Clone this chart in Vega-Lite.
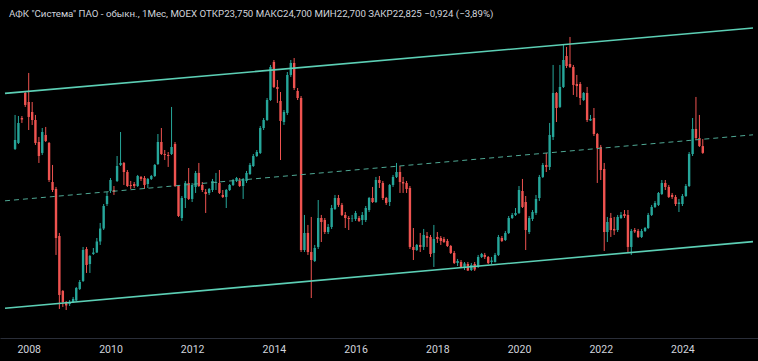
{
  "$schema": "https://vega.github.io/schema/vega-lite/v6.json",
  "width": 758,
  "height": 338,
  "autosize": {"type": "none"},
  "padding": {"left": 0, "right": 0, "top": 0, "bottom": 23},
  "background": "#000000",
  "config": {"view": {"stroke": null, "fill": "#000000"}, "font": "Roboto"},
  "title": {
    "text": "АФК \"Система\" ПАО - обыкн., 1Мес, MOEX  ОТКР23,750  МАКС24,700  МИН22,700  ЗАКР22,825  −0,924 (−3,89%)",
    "anchor": "start", "frame": "group", "offset": -19, "dx": 9,
    "fontSize": 9.7, "fontWeight": "normal", "color": "#d1d4dc", "font": "Roboto"
  },
  "datasets": {
    "candles": [
      {"date":"2007-09-01","open":23.36,"high":27.95,"low":23.22,"close":24.57},
      {"date":"2007-10-01","open":24.17,"high":27.81,"low":24.03,"close":26.87},
      {"date":"2007-11-01","open":27.54,"high":27.81,"low":26.87,"close":27.34},
      {"date":"2007-12-01","open":30.92,"high":31.19,"low":29.03,"close":29.30},
      {"date":"2008-01-01","open":29.70,"high":33.62,"low":25.92,"close":27.68},
      {"date":"2008-02-01","open":28.35,"high":29.70,"low":26.60,"close":27.27},
      {"date":"2008-03-01","open":27.27,"high":27.95,"low":23.90,"close":24.17},
      {"date":"2008-04-01","open":24.30,"high":24.98,"low":21.47,"close":22.41},
      {"date":"2008-05-01","open":22.82,"high":26.19,"low":22.55,"close":25.65},
      {"date":"2008-06-01","open":25.25,"high":26.33,"low":24.30,"close":24.44},
      {"date":"2008-07-01","open":24.17,"high":24.30,"low":18.90,"close":19.17},
      {"date":"2008-08-01","open":18.90,"high":21.20,"low":17.55,"close":17.82},
      {"date":"2008-09-01","open":17.96,"high":18.23,"low":9.05,"close":11.34},
      {"date":"2008-10-01","open":11.61,"high":12.02,"low":1.76,"close":3.65},
      {"date":"2008-11-01","open":4.19,"high":4.32,"low":2.03,"close":2.70},
      {"date":"2008-12-01","open":2.70,"high":2.84,"low":1.62,"close":2.23},
      {"date":"2009-01-01","open":2.43,"high":2.97,"low":2.16,"close":2.70},
      {"date":"2009-02-01","open":2.70,"high":3.38,"low":2.57,"close":3.11},
      {"date":"2009-03-01","open":2.90,"high":4.73,"low":2.84,"close":4.59},
      {"date":"2009-04-01","open":4.46,"high":5.67,"low":4.32,"close":5.40},
      {"date":"2009-05-01","open":5.54,"high":10.13,"low":5.40,"close":9.72},
      {"date":"2009-06-01","open":9.86,"high":10.13,"low":6.62,"close":7.70},
      {"date":"2009-07-01","open":7.83,"high":9.05,"low":6.62,"close":8.91},
      {"date":"2009-08-01","open":9.18,"high":9.99,"low":9.05,"close":9.38},
      {"date":"2009-09-01","open":9.38,"high":11.34,"low":9.32,"close":10.87},
      {"date":"2009-10-01","open":10.87,"high":13.37,"low":10.40,"close":12.62},
      {"date":"2009-11-01","open":12.62,"high":15.93,"low":12.42,"close":15.66},
      {"date":"2009-12-01","open":15.93,"high":17.55,"low":15.66,"close":17.01},
      {"date":"2010-01-01","open":17.69,"high":19.44,"low":17.42,"close":19.17},
      {"date":"2010-02-01","open":17.82,"high":18.36,"low":17.15,"close":17.55},
      {"date":"2010-03-01","open":19.04,"high":22.41,"low":18.90,"close":21.06},
      {"date":"2010-04-01","open":21.20,"high":25.65,"low":21.06,"close":21.47},
      {"date":"2010-05-01","open":21.47,"high":21.60,"low":18.50,"close":20.25},
      {"date":"2010-06-01","open":20.25,"high":20.52,"low":18.23,"close":18.36},
      {"date":"2010-07-01","open":18.50,"high":19.04,"low":17.96,"close":18.36},
      {"date":"2010-08-01","open":18.63,"high":18.90,"low":18.09,"close":18.36},
      {"date":"2010-09-01","open":18.36,"high":19.85,"low":18.23,"close":19.71},
      {"date":"2010-10-01","open":19.58,"high":19.71,"low":19.04,"close":19.31},
      {"date":"2010-11-01","open":19.44,"high":19.71,"low":17.96,"close":18.50},
      {"date":"2010-12-01","open":18.63,"high":19.44,"low":18.09,"close":19.31},
      {"date":"2011-01-01","open":19.31,"high":19.85,"low":19.17,"close":19.71},
      {"date":"2011-02-01","open":19.71,"high":21.33,"low":19.58,"close":21.20},
      {"date":"2011-03-01","open":21.33,"high":25.38,"low":21.20,"close":24.30},
      {"date":"2011-04-01","open":24.30,"high":26.19,"low":22.55,"close":22.68},
      {"date":"2011-05-01","open":22.68,"high":23.22,"low":21.87,"close":22.55},
      {"date":"2011-06-01","open":22.55,"high":22.95,"low":20.93,"close":22.41},
      {"date":"2011-07-01","open":22.68,"high":29.03,"low":22.55,"close":23.63},
      {"date":"2011-08-01","open":24.03,"high":24.30,"low":18.23,"close":18.36},
      {"date":"2011-09-01","open":18.36,"high":18.50,"low":14.18,"close":14.31},
      {"date":"2011-10-01","open":14.04,"high":17.01,"low":13.64,"close":16.74},
      {"date":"2011-11-01","open":16.74,"high":19.04,"low":15.39,"close":18.77},
      {"date":"2011-12-01","open":18.77,"high":20.79,"low":16.47,"close":16.61},
      {"date":"2012-01-01","open":16.61,"high":18.77,"low":16.20,"close":18.50},
      {"date":"2012-02-01","open":18.23,"high":20.39,"low":17.42,"close":20.12},
      {"date":"2012-03-01","open":20.12,"high":21.47,"low":18.23,"close":18.36},
      {"date":"2012-04-01","open":18.50,"high":18.90,"low":17.55,"close":17.82},
      {"date":"2012-05-01","open":17.55,"high":17.96,"low":14.72,"close":17.28},
      {"date":"2012-06-01","open":17.42,"high":18.09,"low":17.15,"close":17.96},
      {"date":"2012-07-01","open":17.82,"high":19.31,"low":17.55,"close":19.04},
      {"date":"2012-08-01","open":18.77,"high":20.12,"low":17.82,"close":18.90},
      {"date":"2012-09-01","open":18.77,"high":20.52,"low":17.28,"close":17.42},
      {"date":"2012-10-01","open":17.15,"high":17.82,"low":16.74,"close":16.88},
      {"date":"2012-11-01","open":16.88,"high":17.96,"low":15.39,"close":17.82},
      {"date":"2012-12-01","open":17.82,"high":18.63,"low":17.69,"close":18.50},
      {"date":"2013-01-01","open":18.50,"high":19.31,"low":18.36,"close":19.17},
      {"date":"2013-02-01","open":19.04,"high":19.58,"low":18.90,"close":19.44},
      {"date":"2013-03-01","open":19.04,"high":19.44,"low":18.23,"close":18.36},
      {"date":"2013-04-01","open":18.36,"high":19.44,"low":16.61,"close":19.31},
      {"date":"2013-05-01","open":19.04,"high":20.39,"low":18.77,"close":20.12},
      {"date":"2013-06-01","open":19.98,"high":21.47,"low":19.85,"close":21.20},
      {"date":"2013-07-01","open":21.06,"high":22.68,"low":20.93,"close":22.41},
      {"date":"2013-08-01","open":22.41,"high":23.22,"low":22.28,"close":22.95},
      {"date":"2013-09-01","open":22.82,"high":26.46,"low":22.68,"close":26.19},
      {"date":"2013-10-01","open":26.19,"high":27.54,"low":25.92,"close":27.27},
      {"date":"2013-11-01","open":27.27,"high":30.24,"low":27.14,"close":29.97},
      {"date":"2013-12-01","open":29.97,"high":34.70,"low":29.84,"close":34.43},
      {"date":"2014-01-01","open":35.10,"high":35.37,"low":31.59,"close":31.73},
      {"date":"2014-02-01","open":31.73,"high":32.67,"low":29.57,"close":31.46},
      {"date":"2014-03-01","open":29.84,"high":31.05,"low":21.87,"close":27.14},
      {"date":"2014-04-01","open":27.00,"high":28.62,"low":26.60,"close":28.35},
      {"date":"2014-05-01","open":28.22,"high":33.75,"low":27.95,"close":33.35},
      {"date":"2014-06-01","open":33.35,"high":35.37,"low":33.08,"close":34.97},
      {"date":"2014-07-01","open":34.97,"high":35.64,"low":31.32,"close":31.59},
      {"date":"2014-08-01","open":31.19,"high":31.59,"low":29.97,"close":30.24},
      {"date":"2014-09-01","open":30.24,"high":30.51,"low":9.45,"close":9.72},
      {"date":"2014-10-01","open":9.72,"high":14.45,"low":9.45,"close":12.02},
      {"date":"2014-11-01","open":12.02,"high":13.10,"low":9.05,"close":9.45},
      {"date":"2014-12-01","open":9.45,"high":14.18,"low":3.24,"close":8.37},
      {"date":"2015-01-01","open":8.24,"high":10.40,"low":8.10,"close":9.99},
      {"date":"2015-02-01","open":10.13,"high":16.47,"low":9.86,"close":14.04},
      {"date":"2015-03-01","open":14.04,"high":14.45,"low":10.80,"close":13.50},
      {"date":"2015-04-01","open":13.77,"high":14.04,"low":11.88,"close":12.15},
      {"date":"2015-05-01","open":12.15,"high":13.23,"low":11.88,"close":12.83},
      {"date":"2015-06-01","open":12.83,"high":15.80,"low":12.56,"close":15.39},
      {"date":"2015-07-01","open":15.26,"high":17.15,"low":15.12,"close":16.74},
      {"date":"2015-08-01","open":16.74,"high":17.15,"low":15.53,"close":15.80},
      {"date":"2015-09-01","open":15.80,"high":16.07,"low":14.31,"close":14.45},
      {"date":"2015-10-01","open":14.45,"high":14.85,"low":12.69,"close":14.04},
      {"date":"2015-11-01","open":14.04,"high":14.31,"low":12.42,"close":13.91},
      {"date":"2015-12-01","open":13.95,"high":14.45,"low":13.50,"close":14.00},
      {"date":"2016-01-01","open":13.91,"high":14.99,"low":13.64,"close":14.72},
      {"date":"2016-02-01","open":14.04,"high":14.31,"low":13.50,"close":13.64},
      {"date":"2016-03-01","open":13.77,"high":14.85,"low":13.10,"close":14.45},
      {"date":"2016-04-01","open":13.77,"high":15.66,"low":13.50,"close":15.39},
      {"date":"2016-05-01","open":15.12,"high":16.88,"low":14.85,"close":16.74},
      {"date":"2016-06-01","open":16.74,"high":18.23,"low":16.07,"close":16.20},
      {"date":"2016-07-01","open":16.20,"high":19.58,"low":16.07,"close":19.17},
      {"date":"2016-08-01","open":19.17,"high":19.71,"low":18.09,"close":18.77},
      {"date":"2016-09-01","open":18.77,"high":19.04,"low":16.47,"close":16.74},
      {"date":"2016-10-01","open":16.74,"high":16.88,"low":15.80,"close":16.07},
      {"date":"2016-11-01","open":16.20,"high":18.63,"low":15.66,"close":18.50},
      {"date":"2016-12-01","open":18.50,"high":19.85,"low":18.23,"close":19.58},
      {"date":"2017-01-01","open":19.58,"high":21.47,"low":19.44,"close":20.25},
      {"date":"2017-02-01","open":20.25,"high":21.06,"low":17.42,"close":18.90},
      {"date":"2017-03-01","open":18.90,"high":19.58,"low":17.42,"close":18.70},
      {"date":"2017-04-01","open":18.77,"high":19.04,"low":17.42,"close":17.96},
      {"date":"2017-05-01","open":18.09,"high":18.36,"low":9.86,"close":10.13},
      {"date":"2017-06-01","open":10.13,"high":12.69,"low":8.37,"close":9.72},
      {"date":"2017-07-01","open":9.72,"high":10.53,"low":9.59,"close":10.40},
      {"date":"2017-08-01","open":10.40,"high":12.02,"low":9.45,"close":10.13},
      {"date":"2017-09-01","open":10.13,"high":12.56,"low":9.72,"close":11.75},
      {"date":"2017-10-01","open":11.61,"high":12.15,"low":10.13,"close":11.34},
      {"date":"2017-11-01","open":11.48,"high":11.75,"low":8.78,"close":9.18},
      {"date":"2017-12-01","open":9.32,"high":13.10,"low":7.43,"close":11.21},
      {"date":"2018-01-01","open":11.48,"high":12.15,"low":10.67,"close":11.21},
      {"date":"2018-02-01","open":11.34,"high":11.61,"low":10.40,"close":10.94},
      {"date":"2018-03-01","open":11.21,"high":11.48,"low":10.67,"close":10.80},
      {"date":"2018-04-01","open":10.94,"high":11.21,"low":10.13,"close":10.26},
      {"date":"2018-05-01","open":10.26,"high":10.40,"low":9.18,"close":9.32},
      {"date":"2018-06-01","open":9.32,"high":9.59,"low":7.83,"close":7.97},
      {"date":"2018-07-01","open":7.97,"high":8.51,"low":7.56,"close":8.24},
      {"date":"2018-08-01","open":8.10,"high":8.37,"low":7.29,"close":7.43},
      {"date":"2018-09-01","open":7.29,"high":8.10,"low":7.02,"close":7.90},
      {"date":"2018-10-01","open":7.83,"high":8.10,"low":6.89,"close":6.95},
      {"date":"2018-11-01","open":7.02,"high":7.97,"low":6.89,"close":7.70},
      {"date":"2018-12-01","open":7.83,"high":8.10,"low":6.89,"close":7.09},
      {"date":"2019-01-01","open":7.43,"high":9.05,"low":7.29,"close":8.78},
      {"date":"2019-02-01","open":8.78,"high":9.32,"low":8.64,"close":9.18},
      {"date":"2019-03-01","open":9.05,"high":9.32,"low":8.51,"close":8.78},
      {"date":"2019-04-01","open":8.78,"high":8.91,"low":7.83,"close":7.97},
      {"date":"2019-05-01","open":8.10,"high":8.78,"low":7.83,"close":8.30},
      {"date":"2019-06-01","open":8.10,"high":9.32,"low":8.03,"close":9.05},
      {"date":"2019-07-01","open":9.05,"high":11.75,"low":8.91,"close":11.48},
      {"date":"2019-08-01","open":11.34,"high":11.61,"low":10.80,"close":10.94},
      {"date":"2019-09-01","open":11.07,"high":12.29,"low":10.94,"close":12.02},
      {"date":"2019-10-01","open":12.02,"high":14.31,"low":11.88,"close":14.04},
      {"date":"2019-11-01","open":14.04,"high":14.72,"low":13.91,"close":14.45},
      {"date":"2019-12-01","open":14.45,"high":15.39,"low":14.31,"close":14.72},
      {"date":"2020-01-01","open":14.72,"high":18.36,"low":14.58,"close":17.82},
      {"date":"2020-02-01","open":17.69,"high":19.31,"low":15.39,"close":15.53},
      {"date":"2020-03-01","open":16.20,"high":17.01,"low":9.72,"close":12.42},
      {"date":"2020-04-01","open":12.15,"high":14.31,"low":11.88,"close":14.04},
      {"date":"2020-05-01","open":13.91,"high":15.12,"low":13.64,"close":14.85},
      {"date":"2020-06-01","open":14.72,"high":17.15,"low":14.45,"close":16.61},
      {"date":"2020-07-01","open":16.74,"high":19.85,"low":16.34,"close":19.58},
      {"date":"2020-08-01","open":19.58,"high":21.47,"low":19.44,"close":21.20},
      {"date":"2020-09-01","open":21.20,"high":22.82,"low":20.25,"close":20.93},
      {"date":"2020-10-01","open":20.93,"high":26.87,"low":20.52,"close":25.25},
      {"date":"2020-11-01","open":24.98,"high":34.70,"low":24.57,"close":30.92},
      {"date":"2020-12-01","open":30.92,"high":31.05,"low":27.00,"close":28.89},
      {"date":"2021-01-01","open":29.03,"high":34.70,"low":28.89,"close":31.73},
      {"date":"2021-02-01","open":31.73,"high":37.40,"low":31.59,"close":35.37},
      {"date":"2021-03-01","open":35.91,"high":37.13,"low":34.29,"close":34.56},
      {"date":"2021-04-01","open":34.83,"high":38.48,"low":34.29,"close":34.43},
      {"date":"2021-05-01","open":34.43,"high":34.70,"low":30.65,"close":32.00},
      {"date":"2021-06-01","open":32.13,"high":33.35,"low":30.38,"close":31.86},
      {"date":"2021-07-01","open":32.13,"high":32.40,"low":29.30,"close":30.24},
      {"date":"2021-08-01","open":29.97,"high":31.05,"low":29.84,"close":30.92},
      {"date":"2021-09-01","open":30.92,"high":31.73,"low":27.00,"close":27.27},
      {"date":"2021-10-01","open":27.20,"high":27.95,"low":27.14,"close":27.41},
      {"date":"2021-11-01","open":27.54,"high":28.89,"low":25.11,"close":25.38},
      {"date":"2021-12-01","open":25.38,"high":25.52,"low":18.77,"close":23.49},
      {"date":"2022-01-01","open":23.63,"high":23.90,"low":19.17,"close":20.52},
      {"date":"2022-02-01","open":20.66,"high":21.47,"low":9.59,"close":12.15},
      {"date":"2022-03-01","open":12.15,"high":14.18,"low":10.80,"close":13.50},
      {"date":"2022-04-01","open":14.04,"high":14.72,"low":11.48,"close":12.42},
      {"date":"2022-05-01","open":12.56,"high":14.18,"low":11.75,"close":12.35},
      {"date":"2022-06-01","open":12.42,"high":14.45,"low":12.15,"close":14.18},
      {"date":"2022-07-01","open":14.04,"high":14.85,"low":13.91,"close":14.45},
      {"date":"2022-08-01","open":14.58,"high":15.12,"low":14.04,"close":14.31},
      {"date":"2022-09-01","open":14.45,"high":15.12,"low":9.45,"close":10.13},
      {"date":"2022-10-01","open":10.13,"high":12.56,"low":9.05,"close":12.29},
      {"date":"2022-11-01","open":12.42,"high":12.69,"low":12.02,"close":12.22},
      {"date":"2022-12-01","open":12.29,"high":12.56,"low":11.34,"close":11.48},
      {"date":"2023-01-01","open":11.48,"high":12.56,"low":11.34,"close":12.29},
      {"date":"2023-02-01","open":12.29,"high":12.83,"low":12.15,"close":12.69},
      {"date":"2023-03-01","open":12.69,"high":14.72,"low":12.56,"close":14.45},
      {"date":"2023-04-01","open":14.45,"high":15.80,"low":14.31,"close":15.53},
      {"date":"2023-05-01","open":15.53,"high":16.34,"low":15.39,"close":16.07},
      {"date":"2023-06-01","open":15.80,"high":17.55,"low":15.66,"close":17.42},
      {"date":"2023-07-01","open":17.28,"high":19.17,"low":17.15,"close":18.77},
      {"date":"2023-08-01","open":18.77,"high":19.17,"low":17.82,"close":18.23},
      {"date":"2023-09-01","open":18.23,"high":18.50,"low":16.74,"close":16.88},
      {"date":"2023-10-01","open":17.15,"high":17.42,"low":16.61,"close":16.88},
      {"date":"2023-11-01","open":16.88,"high":17.15,"low":15.66,"close":15.93},
      {"date":"2023-12-01","open":15.93,"high":16.61,"low":14.85,"close":16.13},
      {"date":"2024-01-01","open":15.93,"high":17.28,"low":15.66,"close":17.01},
      {"date":"2024-02-01","open":17.01,"high":18.63,"low":16.88,"close":18.36},
      {"date":"2024-03-01","open":18.36,"high":22.95,"low":18.23,"close":22.68},
      {"date":"2024-04-01","open":22.68,"high":27.54,"low":22.41,"close":26.06},
      {"date":"2024-05-01","open":26.06,"high":30.38,"low":24.57,"close":24.84},
      {"date":"2024-06-01","open":24.84,"high":27.95,"low":23.63,"close":23.75},
      {"date":"2024-07-01","open":23.75,"high":24.70,"low":22.70,"close":22.825}
    ],
    "channel": [
      {"date":"2007-06-03","price":30.87,"line":"upper"},
      {"date":"2025-09-23","price":39.68,"line":"upper"},
      {"date":"2007-06-03","price":1.85,"line":"lower"},
      {"date":"2025-09-23","price":10.85,"line":"lower"},
      {"date":"2007-06-03","price":16.36,"line":"middle"},
      {"date":"2025-09-23","price":25.27,"line":"middle"}
    ]
  },
  "encoding": {
    "x": {
      "field": "date", "type": "temporal",
      "scale": {"type": "utc", "domain": [{"year":2007,"month":6,"date":3,"utc":true},{"year":2025,"month":9,"date":23,"utc":true}]},
      "axis": {
        "title": null, "format": "%Y", "grid": false, "ticks": false,
        "domain": true, "domainColor": "#2a2e39", "domainWidth": 1,
        "labelColor": "#d1d4dc", "labelFontSize": 10.5, "labelFont": "Roboto",
        "labelPadding": 6, "labelFlush": false, "labelOverlap": false,
        "values": [
          {"year":2008,"month":1,"date":1,"utc":true},
          {"year":2010,"month":1,"date":1,"utc":true},
          {"year":2012,"month":1,"date":1,"utc":true},
          {"year":2014,"month":1,"date":1,"utc":true},
          {"year":2016,"month":1,"date":1,"utc":true},
          {"year":2018,"month":1,"date":1,"utc":true},
          {"year":2020,"month":1,"date":1,"utc":true},
          {"year":2022,"month":1,"date":1,"utc":true},
          {"year":2024,"month":1,"date":1,"utc":true}
        ]
      }
    }
  },
  "layer": [
    {
      "data": {"name": "candles"},
      "mark": {"type": "rule", "strokeWidth": 1},
      "encoding": {
        "y": {"field": "low", "type": "quantitative", "scale": {"domain": [-2.16, 43.47], "nice": false, "zero": false}, "axis": null},
        "y2": {"field": "high"},
        "color": {"condition": {"test": "datum.close >= datum.open", "value": "#26a69a"}, "value": "#ef5350"}
      }
    },
    {
      "data": {"name": "candles"},
      "mark": {"type": "bar", "size": 2.4},
      "encoding": {
        "y": {"field": "open", "type": "quantitative", "scale": {"domain": [-2.16, 43.47], "nice": false, "zero": false}, "axis": null},
        "y2": {"field": "close"},
        "color": {"condition": {"test": "datum.close >= datum.open", "value": "#26a69a"}, "value": "#ef5350"}
      }
    },
    {
      "data": {"name": "channel"},
      "transform": [{"filter": "datum.line != 'middle'"}],
      "mark": {"type": "line", "strokeWidth": 1.6, "color": "#5ccfb5", "clip": true},
      "encoding": {
        "y": {"field": "price", "type": "quantitative", "scale": {"domain": [-2.16, 43.47], "nice": false, "zero": false}, "axis": null},
        "detail": {"field": "line"}
      }
    },
    {
      "data": {"name": "channel"},
      "transform": [{"filter": "datum.line == 'middle'"}],
      "mark": {"type": "line", "strokeWidth": 1, "color": "#4fa894", "strokeDash": [5, 4], "clip": true},
      "encoding": {
        "y": {"field": "price", "type": "quantitative", "scale": {"domain": [-2.16, 43.47], "nice": false, "zero": false}, "axis": null}
      }
    }
  ]
}
